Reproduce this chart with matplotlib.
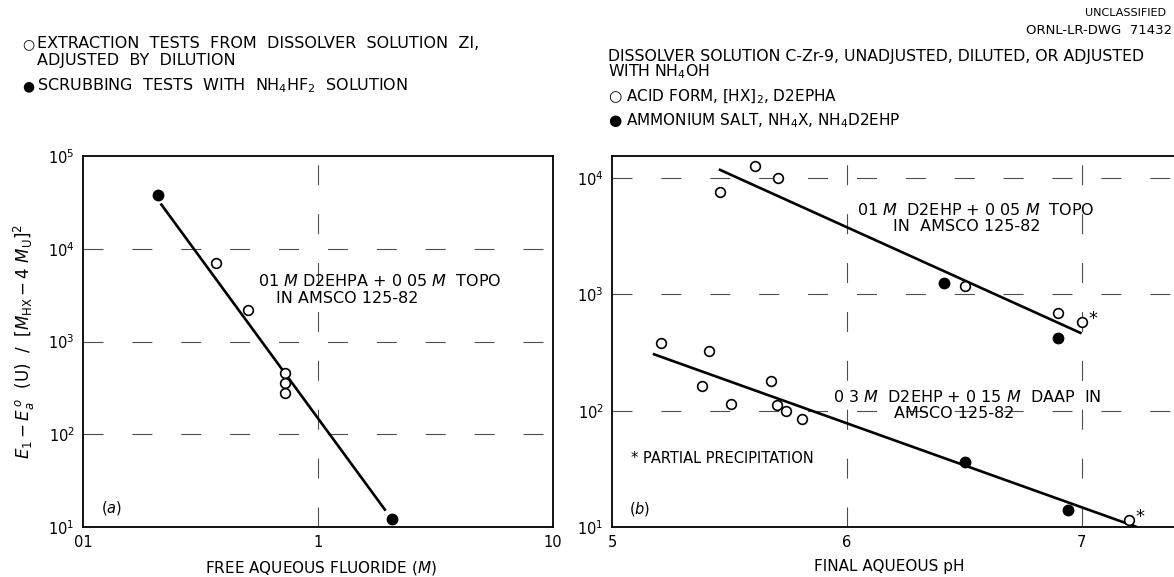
import matplotlib.pyplot as plt

plt.rcParams['font.family'] = ['DejaVu Sans']
plt.rcParams['mathtext.fontset'] = 'dejavusans'

# (a) extraction coefficient against free aqueous fluoride, molar
fluor_open_x = [0.369, 0.505, 0.724, 0.724, 0.724]
fluor_open_y = [7100, 2200, 460, 353, 276]
fluor_fill_x = [0.208, 2.07]
fluor_fill_y = [38000, 12.3]
fluor_fit_x = [0.214, 1.94]
fluor_fit_y = [30700, 15]

# (b) extraction coefficient against final aqueous pH
topo_open_ph = [5.460, 5.608, 5.707, 6.505, 6.901, 7.0]
topo_open_e = [7530, 12700, 10070, 1186, 695, 578]
topo_fill_ph = [6.412, 6.901]
topo_fill_e = [1241, 424]
topo_fit_ph = [5.455, 7.0]
topo_fit_e = [11900, 462]

daap_open_ph = [5.207, 5.382, 5.411, 5.505, 5.679, 5.702, 5.739, 5.808, 7.201]
daap_open_e = [384, 163, 326, 114, 180, 111, 99.6, 85.5, 11.5]
daap_fill_ph = [6.504, 6.941]
daap_fill_e = [36.5, 13.9]
daap_fit_ph = [5.174, 7.235]
daap_fit_e = [308, 10]

# runs with partial precipitation
precip_ph = [7.0, 7.201]
precip_e = [578, 11.5]

x_ticks_a = [0.1, 1, 10]
x_ticklabels_a = ['01', '1', '10']
x_ticks_b = [5, 6, 7]
x_ticklabels_b = ['5', '6', '7']

W, H = 1174, 577


def px(x, y):
    return x / W, 1 - y / H


fig = plt.figure(figsize=(W / 100, H / 100), dpi=100)
ax1 = fig.add_axes([83 / W, 1 - 527 / H, 470 / W, 371 / H])
ax2 = fig.add_axes([612 / W, 1 - 527 / H, 587 / W, 371 / H])

grid_kw = dict(color='0.3', lw=0.8, ls=(0, (18, 26)))
open_kw = dict(ls='none', marker='o', ms=7, mfc='white', mec='black', mew=1.2, zorder=4)
fill_kw = dict(ls='none', marker='o', ms=7.5, mfc='black', mec='black', zorder=4)
fs = 11.5

for ax in (ax1, ax2):
    ax.set_yscale('log')
    for s in ax.spines.values():
        s.set_linewidth(1.3)
    ax.tick_params(which='both', length=0, labelsize=10.5, pad=6)

# --- (a)
ax1.set_xscale('log')
ax1.set_xlim(0.1, 10)
ax1.set_ylim(10, 1e5)
ax1.set_xticks(x_ticks_a, x_ticklabels_a)
ax1.set_yticks([10, 100, 1e3, 1e4, 1e5])
ax1.minorticks_off()
for v in [1e2, 1e3, 1e4]:
    ax1.axhline(v, **grid_kw)
ax1.axvline(1, **grid_kw)
ax1.plot(fluor_fit_x, fluor_fit_y, color='black', lw=1.9, solid_capstyle='butt')
ax1.plot(fluor_open_x, fluor_open_y, **open_kw)
ax1.plot(fluor_fill_x, fluor_fill_y, **fill_kw)
ax1.text(0.372, 0.662, r'01 $M$ D2EHPA + 0 05 $M$  TOPO', transform=ax1.transAxes,
         ha='left', va='center', fontsize=fs)
ax1.text(0.41, 0.617, 'IN AMSCO 125-82', transform=ax1.transAxes,
         ha='left', va='center', fontsize=fs)
ax1.text(0.06, 0.05, r'($a$)', transform=ax1.transAxes, ha='center', va='center', fontsize=10.5)
ax1.set_xlabel(r'FREE AQUEOUS FLUORIDE ($M$)', fontsize=11)
ax1.xaxis.set_label_coords(0.506, -0.085)
ax1.set_ylabel(r'$E_1 - E^{\,o}_{a}$  (U)  /  [$M_{\rm HX} - 4\ M_{\rm U}$]$^2$',
               fontsize=12, labelpad=8)

# --- (b)
ax2.set_xlim(5, 7.5)
ax2.set_ylim(10, 10 ** 4.19)
ax2.set_xticks(x_ticks_b, x_ticklabels_b)
ax2.set_yticks([10, 100, 1e3, 1e4])
ax2.minorticks_off()
for v in [1e2, 1e3, 1e4]:
    ax2.axhline(v, **grid_kw)
for v in [6, 7]:
    ax2.axvline(v, **grid_kw)
ax2.plot(topo_fit_ph, topo_fit_e, color='black', lw=1.9, solid_capstyle='butt')
ax2.plot(daap_fit_ph, daap_fit_e, color='black', lw=1.9, solid_capstyle='butt')
ax2.plot(topo_open_ph, topo_open_e, **open_kw)
ax2.plot(topo_fill_ph, topo_fill_e, **fill_kw)
ax2.plot(daap_open_ph, daap_open_e, **open_kw)
ax2.plot(daap_fill_ph, daap_fill_e, **fill_kw)
for x, y in zip(precip_ph, precip_e):
    ax2.annotate('*', (x, y), xytext=(5, 2), textcoords='offset points',
                 ha='left', va='center', fontsize=13)
ax2.text(6.043, 10 ** 3.726, r'01 $M$  D2EHP + 0 05 $M$  TOPO', ha='left', va='center', fontsize=fs)
ax2.text(6.197, 10 ** 3.58, 'IN  AMSCO 125-82', ha='left', va='center', fontsize=fs)
ax2.text(5.941, 10 ** 2.118, r'0 3 $M$  D2EHP + 0 15 $M$  DAAP  IN', ha='left', va='center', fontsize=fs)
ax2.text(6.201, 10 ** 1.98, 'AMSCO 125-82', ha='left', va='center', fontsize=fs)
ax2.text(5.08, 10 ** 1.586, '* PARTIAL PRECIPITATION', ha='left', va='center', fontsize=10.5)
ax2.text(5.12, 10 ** 1.157, r'($b$)', ha='center', va='center', fontsize=10.5)
ax2.set_xlabel('FINAL AQUEOUS pH', fontsize=11)
ax2.xaxis.set_label_coords((889 - 612) / 587, -0.085)

# headers
fig.text(*px(1166, 13), 'UNCLASSIFIED', ha='right', va='center', fontsize=8)
fig.text(*px(1172, 30), 'ORNL-LR-DWG  71432', ha='right', va='center', fontsize=9.5)

fig.text(*px(22, 44), '○', ha='left', va='center', fontsize=10)
fig.text(*px(37, 44), 'EXTRACTION  TESTS  FROM  DISSOLVER  SOLUTION  ZI,', ha='left', va='center', fontsize=fs)
fig.text(*px(37, 61), 'ADJUSTED  BY  DILUTION', ha='left', va='center', fontsize=fs)
fig.text(*px(22, 86), '●', ha='left', va='center', fontsize=10)
fig.text(*px(37, 86), r'SCRUBBING  TESTS  WITH  NH$_4$HF$_2$  SOLUTION', ha='left', va='center', fontsize=fs)

fig.text(*px(608, 56), 'DISSOLVER SOLUTION C-Zr-9, UNADJUSTED, DILUTED, OR ADJUSTED',
         ha='left', va='center', fontsize=11.3)
fig.text(*px(608, 72), r'WITH NH$_4$OH', ha='left', va='center', fontsize=11.3)
fig.text(*px(608, 97), r'○ ACID FORM, [HX]$_2$, D2EPHA', ha='left', va='center', fontsize=11)
fig.text(*px(608, 121), r'● AMMONIUM SALT, NH$_4$X, NH$_4$D2EHP', ha='left', va='center', fontsize=11)

fig.savefig('out.png', dpi=100)
